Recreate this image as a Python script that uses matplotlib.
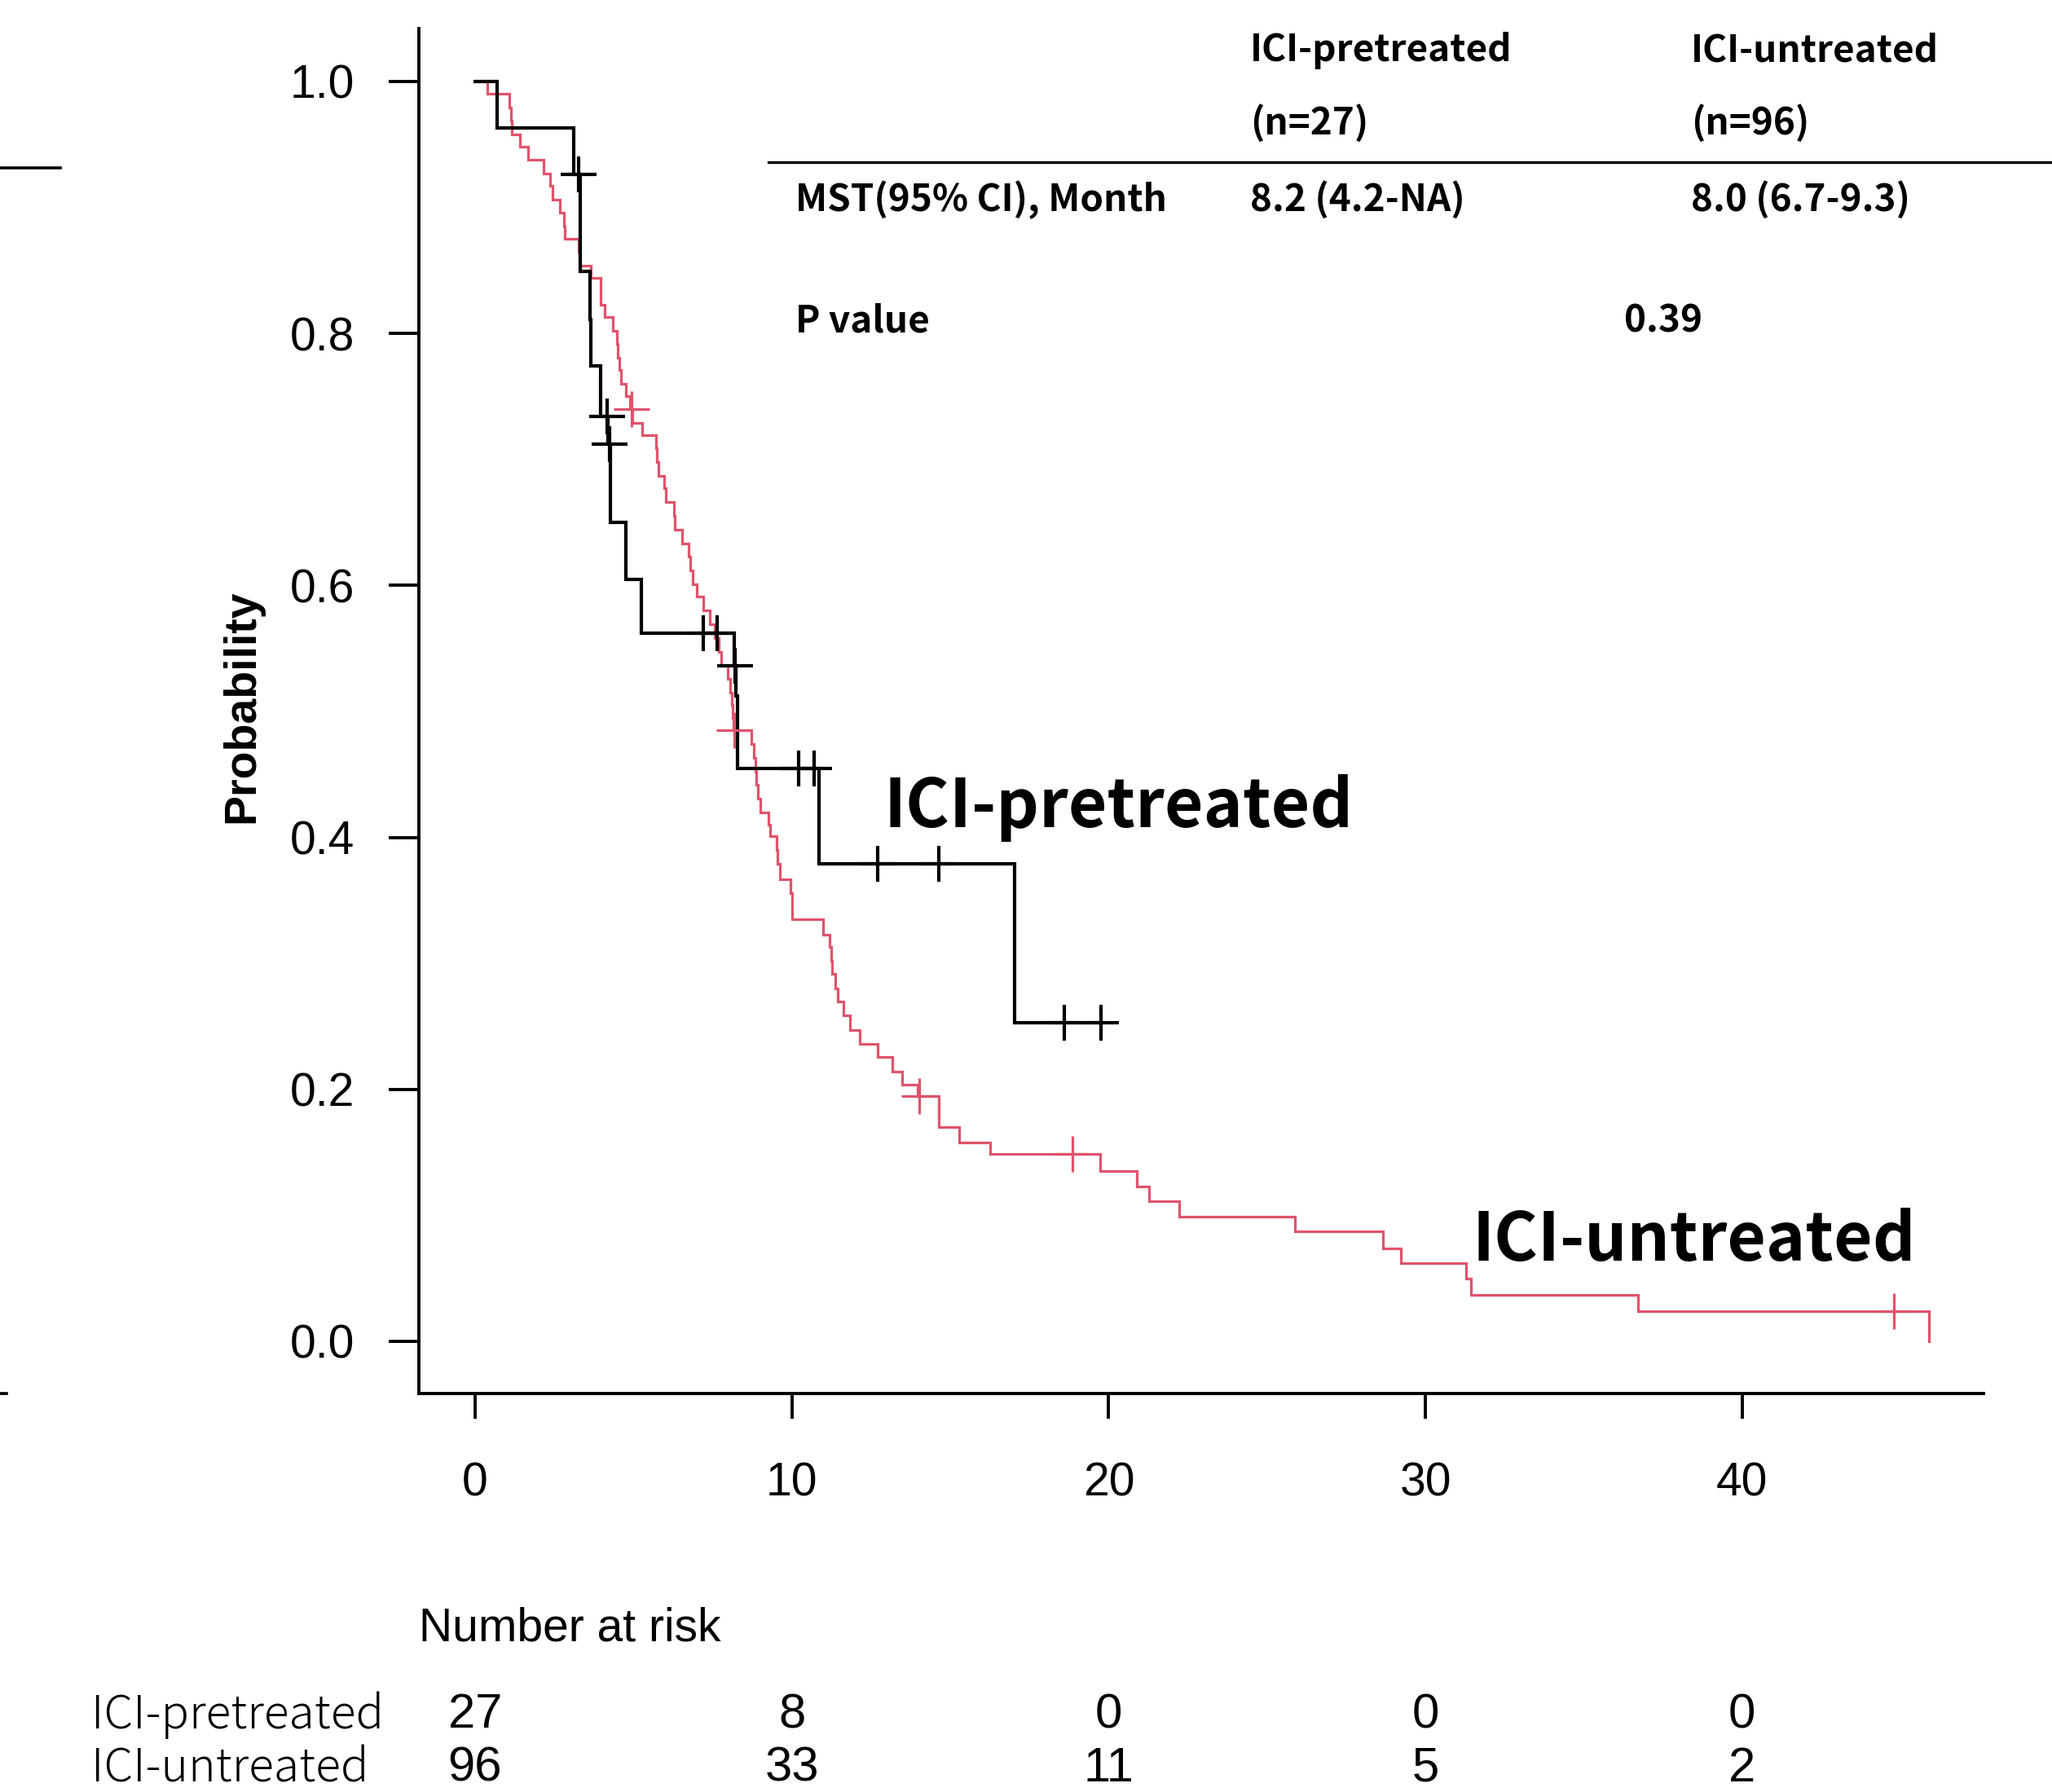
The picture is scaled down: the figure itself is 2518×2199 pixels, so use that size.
import matplotlib.pyplot as plt
import matplotlib.transforms as mtrans
from matplotlib.lines import Line2D
import numpy as np

# ICI-untreated (red, n=96): time of each drop (months) and survival after it
red_t = [0.39, 1.08, 1.12, 1.17, 1.42, 1.68, 2.15, 2.37, 2.45, 2.67, 2.80, 2.84,
         3.27, 3.30, 3.65, 3.95, 3.97, 4.08, 4.34, 4.47, 4.50, 4.55, 4.60, 4.77,
         4.90, 4.97, 5.28, 5.71, 5.73, 5.80, 5.97, 6.01, 6.27, 6.31, 6.53, 6.74,
         6.80, 6.87, 7.00, 7.21, 7.40, 7.56, 7.68, 7.77, 7.98, 8.05, 8.10, 8.14,
         8.16, 8.71, 8.80, 8.85, 8.88, 8.93, 9.00, 9.27, 9.31, 9.53, 9.55, 9.61,
         9.96, 10.00, 10.02, 10.99, 11.20, 11.24, 11.26, 11.37, 11.46, 11.63,
         11.84, 12.14, 12.70, 13.17, 13.47, 13.98, 14.63, 14.65, 15.27, 16.26,
         19.73, 20.89, 21.27, 22.22, 25.89, 28.65, 29.23, 31.29, 31.44, 36.70,
         45.90]
red_s = [0.990, 0.979, 0.969, 0.958, 0.948, 0.938, 0.927, 0.917, 0.906, 0.896, 0.885, 0.875,
         0.865, 0.854, 0.844, 0.833, 0.823, 0.813, 0.802, 0.792, 0.781, 0.771, 0.760, 0.750,
         0.740, 0.729, 0.719, 0.709, 0.698, 0.687, 0.677, 0.666, 0.655, 0.644, 0.633, 0.623,
         0.612, 0.601, 0.591, 0.580, 0.569, 0.558, 0.547, 0.536, 0.526, 0.515, 0.505, 0.495,
         0.485, 0.474, 0.463, 0.452, 0.442, 0.431, 0.420, 0.410, 0.401, 0.390, 0.379, 0.367,
         0.356, 0.346, 0.335, 0.323, 0.313, 0.302, 0.292, 0.280, 0.270, 0.259,
         0.247, 0.236, 0.226, 0.214, 0.204, 0.195, 0.182, 0.170, 0.158, 0.149,
         0.135, 0.123, 0.111, 0.099, 0.087, 0.074, 0.062, 0.050, 0.037, 0.024,
         0.000]
red_end = 45.90
red_cens_t = [4.94, 8.18, 14.03, 18.87, 44.80]
red_cens_s = [0.740, 0.485, 0.195, 0.149, 0.024]

# ICI-pretreated (black, n=27)
blk_t = [0.69, 3.11, 3.31, 3.33, 3.63, 3.65, 3.95, 4.20, 4.27, 4.77, 5.24,
         8.18, 8.22, 8.28, 10.86, 17.03]
blk_s = [0.963, 0.926, 0.887, 0.849, 0.811, 0.774, 0.734, 0.712, 0.650, 0.605, 0.562,
         0.536, 0.512, 0.455, 0.379, 0.253]
blk_end = 19.75
blk_cens_t = [3.28, 4.17, 4.25, 7.21, 7.64, 8.20, 10.21, 10.69, 12.70, 14.63, 18.59, 19.75]
blk_cens_s = [0.926, 0.734, 0.712, 0.562, 0.562, 0.536, 0.455, 0.455, 0.379, 0.379, 0.253, 0.253]

# number at risk
risk_times = [0, 10, 20, 30, 40]
risk_pre = [27, 8, 0, 0, 0]
risk_un = [96, 33, 11, 5, 2]

RED = "#DF536B"
W, H = 2518, 2199


def fx(px):
    return px / W


def fy(py):
    return 1 - py / H


fig = plt.figure(figsize=(W / 100, H / 100), dpi=100)
ax = fig.add_axes([fx(514), fy(1710), fx(2434) - fx(514), fy(35) - fy(1710)])

# KM curves
ax.step(np.r_[0, red_t, red_end], np.r_[1.0, red_s, red_s[-1]], where="post",
        color=RED, lw=2.3, solid_joinstyle="miter")
ax.step(np.r_[0, blk_t, blk_end], np.r_[1.0, blk_s, blk_s[-1]], where="post",
        color="black", lw=3.0, solid_joinstyle="miter")
ax.plot(red_cens_t, red_cens_s, ls="none", marker="+", ms=31, mew=2.3, color=RED)
ax.plot(blk_cens_t, blk_cens_s, ls="none", marker="+", ms=31, mew=3.0, color="black")

ax.set_xlim(-1.775, 47.62)
ax.set_ylim(-0.0414, 1.042)
ax.set_xticks(risk_times)
ax.set_yticks([0, 0.2, 0.4, 0.6, 0.8, 1.0])
ax.set_yticklabels(["0.0", "0.2", "0.4", "0.6", "0.8", "1.0"])
for sp in ["top", "right"]:
    ax.spines[sp].set_visible(False)
for sp in ["left", "bottom"]:
    ax.spines[sp].set_linewidth(2.8)
ax.tick_params(axis="y", length=27, width=2.8, pad=30, labelsize=41)
ax.tick_params(axis="x", length=22, width=2.8, pad=38, labelsize=41)
for lab in ax.get_xticklabels() + ax.get_yticklabels():
    lab.set_fontfamily("Liberation Sans")

fig.text(fx(297), fy(867), "Probability", rotation=90, ha="center", va="center",
         fontsize=40, fontweight="bold", family="Liberation Sans")

# curve labels
jp = ["Noto Sans CJK JP", "DejaVu Sans"]
fig.text(fx(1084), fy(1015), "ICI-pretreated", fontsize=59, fontweight="bold",
         family=jp, va="baseline")
fig.text(fx(1807), fy(1547), "ICI-untreated", fontsize=59, fontweight="bold",
         family=jp, va="baseline")

# summary table
tab = dict(fontsize=33, fontweight="bold", family=jp, va="baseline")
fig.text(fx(1534), fy(75), "ICI-pretreated", **tab)
fig.text(fx(2075), fy(75), "ICI-untreated", **tab)
fig.text(fx(1534), fy(165), "(n=27)", **tab)
fig.text(fx(2075), fy(165), "(n=96)", **tab)
fig.add_artist(Line2D([fx(943), fx(2518)], [fy(199), fy(199)], color="black", lw=2.4))
fig.text(fx(976), fy(259), "MST(95% CI), Month", **tab)
fig.text(fx(1534), fy(259), "8.2 (4.2-NA)", **tab)
fig.text(fx(2075), fy(259), "8.0 (6.7-9.3)", **tab)
fig.text(fx(976), fy(408), "P value", **tab)
fig.text(fx(1993), fy(408), "0.39", **tab)

# leftover lines at the left edge
fig.add_artist(Line2D([0, fx(74)], [fy(206), fy(206)], color="black", lw=2.6))
fig.add_artist(Line2D([0, fx(8)], [fy(1710), fy(1710)], color="black", lw=2.6))

# number at risk table
fig.text(fx(514), fy(1998), "Number at risk", fontsize=41, family="Liberation Sans",
         va="center", ha="left")
fig.text(fx(112), fy(2105), "ICI-pretreated", fontsize=41, fontweight="light",
         family=jp, va="center")
fig.text(fx(112), fy(2170), "ICI-untreated", fontsize=41, fontweight="light",
         family=jp, va="center")
trans = mtrans.blended_transform_factory(ax.transData, fig.transFigure)
for t, a, b in zip(risk_times, risk_pre, risk_un):
    ax.text(t, fy(2105), str(a), transform=trans, ha="center", va="center",
            fontsize=43, family="Liberation Sans", clip_on=False)
    ax.text(t, fy(2170), str(b), transform=trans, ha="center", va="center",
            fontsize=43, family="Liberation Sans", clip_on=False)

fig.savefig("out.png", dpi=100)
